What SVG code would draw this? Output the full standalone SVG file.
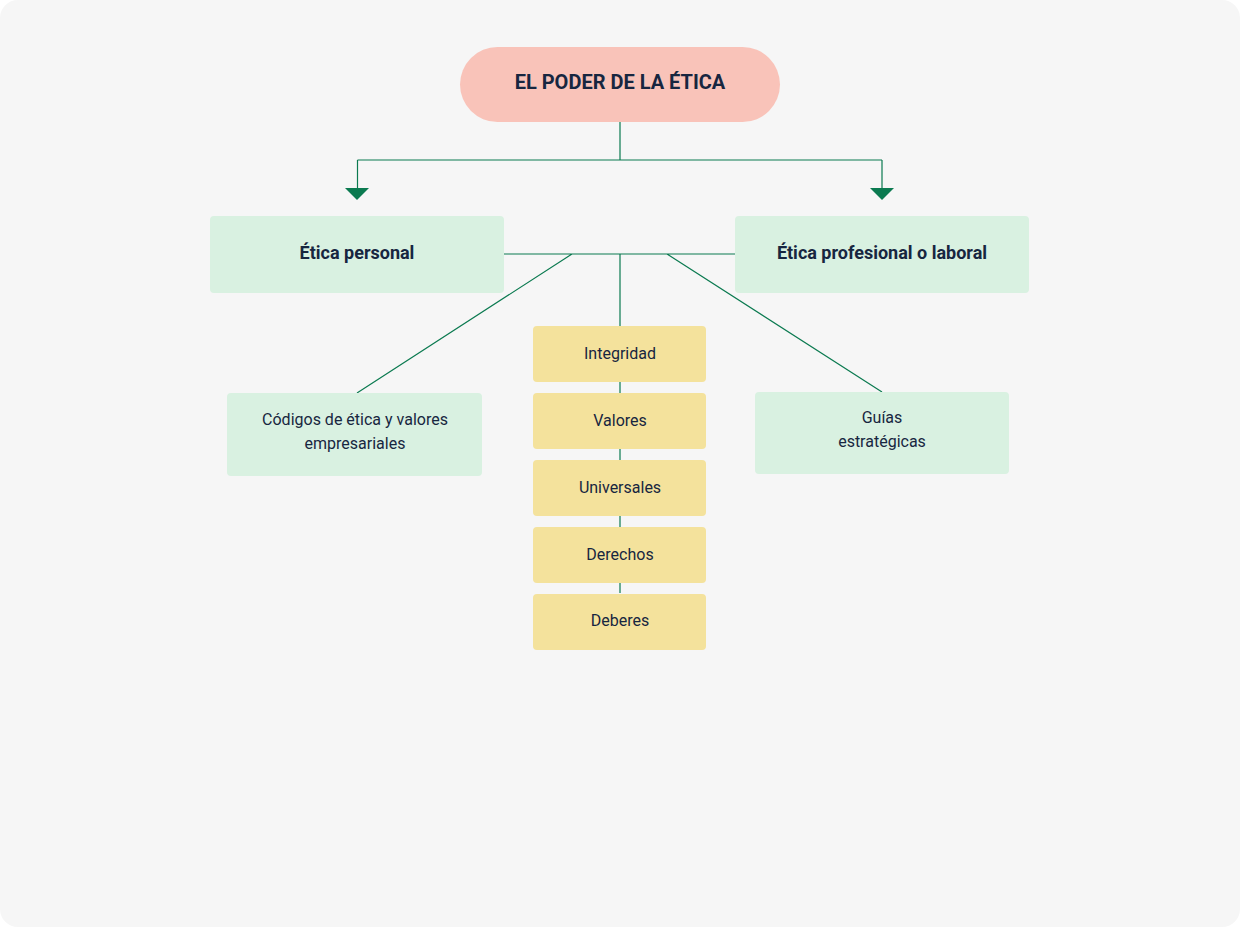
<svg xmlns="http://www.w3.org/2000/svg" width="1240" height="927" viewBox="0 0 1240 927">
<defs>
<style>
.t{font-family:Roboto,"Liberation Sans",sans-serif;fill:#172640;text-anchor:middle;dominant-baseline:central}
.b{font-weight:700;font-size:18px}
.h{font-weight:700;font-size:20px}
.r{font-weight:400;font-size:16px}
.g{fill:#d9f1e1}
.y{fill:#f4e29c}
.c{stroke:#0b7a50;stroke-width:1.2;fill:none}
.a{fill:#0b7a50}
</style>
</defs>
<rect x="0" y="0" width="1240" height="927" rx="18" fill="#f6f6f6"/>
<g id="connectors">
<path class="c" d="M620 122V160M357.5 160H882M357.5 160V189M882 160V189"/>
<polygon class="a" points="345,188 369,188 357,200"/>
<polygon class="a" points="870,188 894,188 882,200"/>
<path class="c" d="M504 254H735M572 254L357 393M667 254L882 392M620 254V593"/>
</g>
<g id="title">
<rect x="460" y="47" width="320" height="75" rx="37.5" fill="#f9c3b9"/>
<text class="t h" x="620" y="82">EL PODER DE LA ÉTICA</text>
</g>
<g id="etica-personal">
<rect class="g" x="210" y="216" width="294" height="77" rx="4"/>
<text class="t b" x="357" y="252.5">Ética personal</text>
</g>
<g id="etica-profesional">
<rect class="g" x="735" y="216" width="294" height="77" rx="4"/>
<text class="t b" x="882" y="252.5">Ética profesional o laboral</text>
</g>
<g id="codigos">
<rect class="g" x="227" y="393" width="255" height="83" rx="4"/>
<text class="t r" x="355" y="419">Códigos de ética y valores</text>
<text class="t r" x="355" y="443">empresariales</text>
</g>
<g id="guias">
<rect class="g" x="755" y="392" width="254" height="82" rx="4"/>
<text class="t r" x="882" y="417">Guías</text>
<text class="t r" x="882" y="441">estratégicas</text>
</g>
<g id="integridad">
<rect class="y" x="533" y="326" width="173" height="56" rx="4"/>
<text class="t r" x="620" y="353">Integridad</text>
</g>
<g id="valores">
<rect class="y" x="533" y="393" width="173" height="56" rx="4"/>
<text class="t r" x="620" y="420">Valores</text>
</g>
<g id="universales">
<rect class="y" x="533" y="460" width="173" height="56" rx="4"/>
<text class="t r" x="620" y="487">Universales</text>
</g>
<g id="derechos">
<rect class="y" x="533" y="527" width="173" height="56" rx="4"/>
<text class="t r" x="620" y="554">Derechos</text>
</g>
<g id="deberes">
<rect class="y" x="533" y="594" width="173" height="56" rx="4"/>
<text class="t r" x="620" y="620">Deberes</text>
</g>
</svg>
